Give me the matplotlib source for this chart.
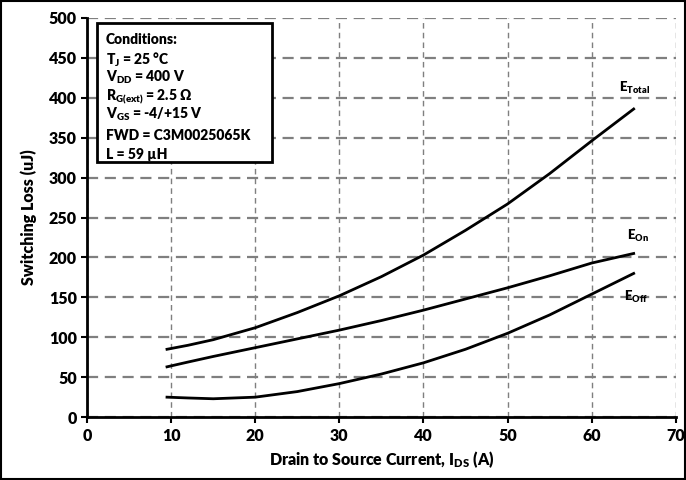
import numpy as np
import matplotlib.pyplot as plt
from matplotlib.font_manager import FontProperties

plt.rcParams['font.family'] = ['Lato', 'DejaVu Sans']
plt.rcParams['font.weight'] = 800
plt.rcParams['mathtext.fontset'] = 'custom'
plt.rcParams['mathtext.rm'] = 'Lato:weight=800'
plt.rcParams['mathtext.it'] = 'Lato:weight=800'
plt.rcParams['mathtext.bf'] = 'Lato:weight=800'

# switching loss curves
ids = [9.5, 12, 15, 20, 25, 30, 35, 40, 45, 50, 55, 60, 65]
e_total = [85, 90, 97, 112, 131, 152, 176, 203, 234, 267, 305, 346, 386]
e_on = [63, 69, 76, 87, 98, 109, 121, 134, 148, 162, 177, 193, 205]
e_off = [25, 24, 23, 25, 32, 42, 54, 68, 85, 105, 128, 154, 180]

x_ticks = [0, 10, 20, 30, 40, 50, 60, 70]
y_ticks = [0, 50, 100, 150, 200, 250, 300, 350, 400, 450, 500]

conditions = ["Conditions:",
              r"$\mathregular{T_J}$ = 25 °C",
              r"$\mathregular{V_{DD}}$ = 400 V",
              r"$\mathregular{R_{G(ext)}}$ = 2.5 Ω",
              r"$\mathregular{V_{GS}}$ = -4/+15 V",
              "FWD = C3M0025065K",
              "L = 59 µH"]

fig = plt.figure(figsize=(6.86, 4.8), dpi=100)
ax = fig.add_axes([0.127, 0.131, 0.858, 0.8315])

ax.plot(ids, e_total, color='black', lw=2)
ax.plot(ids, e_on, color='black', lw=2)
ax.plot(ids, e_off, color='black', lw=2)

ax.set_xlim(0, 70)
ax.set_ylim(0, 500)
ax.set_xticks(x_ticks)
ax.set_yticks(y_ticks)
ax.grid(True, axis='y', color='#7f7f7f', linestyle=(0, (5, 3)), lw=1.6)
ax.grid(True, axis='x', color='#7f7f7f', linestyle=(0, (4, 3)), lw=1.0)
ax.set_axisbelow(True)

for s in ['top', 'right']:
    ax.spines[s].set_visible(False)
for s in ['left', 'bottom']:
    ax.spines[s].set_linewidth(2)
ax.tick_params(direction='out', length=4, width=1.5)
ax.set_xlabel(r"Drain to Source Current, $\mathregular{I_{DS}}$ (A)", fontsize=11.5,
              fontweight=800, labelpad=4)
ax.set_ylabel("Switching Loss (uJ)", fontsize=11.5, fontweight=800, labelpad=8)

ax.text(63.3, 408, r"$\mathregular{E_{Total}}$", fontsize=9.5, fontweight=800)
ax.text(64.2, 222, r"$\mathregular{E_{On}}$", fontsize=9.5, fontweight=800)
ax.text(63.8, 146, r"$\mathregular{E_{Off}}$", fontsize=9.5, fontweight=800)

# conditions box
box = plt.Rectangle((0.017, 0.64), 0.297, 0.348, transform=ax.transAxes,
                    facecolor='white', edgecolor='black', lw=2, zorder=3)
ax.add_patch(box)
ys = [0.946, 0.896, 0.851, 0.803, 0.758, 0.706, 0.658]
for txt, y in zip(conditions, ys):
    ax.text(0.032, y, txt, transform=ax.transAxes, fontsize=10, fontweight=800,
            va='center', zorder=4)

fig.patches.append(plt.Rectangle((0.002, 0.002), 0.996, 0.996, transform=fig.transFigure,
                                 fill=False, edgecolor='black', lw=1.5))

fig.canvas.draw()
tick_font = FontProperties(family='Lato', weight=800, size=11.5)
for lab in ax.get_xticklabels() + ax.get_yticklabels():
    lab.set_fontproperties(tick_font)

fig.savefig('out.png', dpi=100)
